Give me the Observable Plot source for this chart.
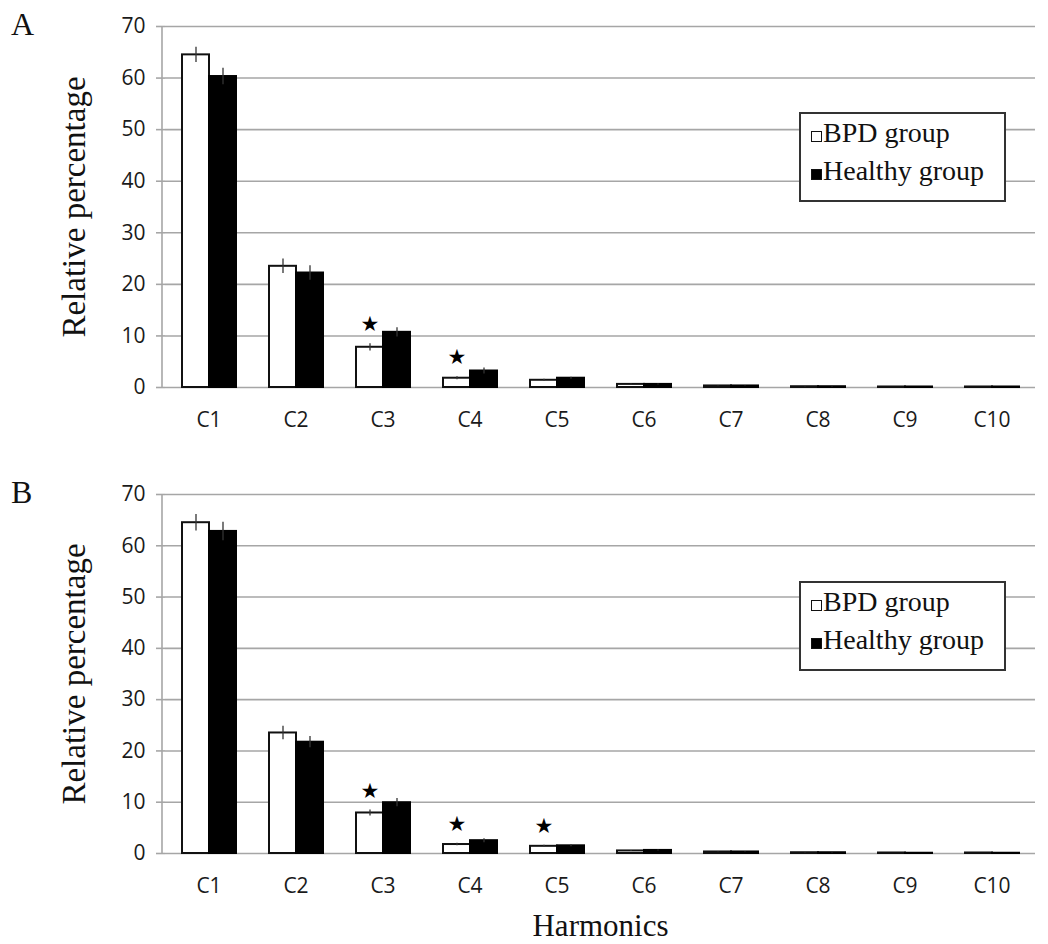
<!DOCTYPE html>
<html>
<head>
<meta charset="utf-8">
<script src="https://cdn.jsdelivr.net/npm/d3@7"></script>
<script src="https://cdn.jsdelivr.net/npm/@observablehq/plot@0.6"></script>
<style>
  body { margin: 0; background: #fff; }
  #wrap { width: 1048px; }
  .panel { position: relative; width: 1048px; height: 472px; }
  .tag { position: absolute; left: 11px; font: 32px "Liberation Serif", serif; line-height: 32px; color: #111; }
  .legend { position: absolute; left: 799px; width: 203px; height: 86px; border: 2px solid #333;
            background: #fff; font: 28px "Liberation Serif", serif; color: #111; box-sizing: content-box; }
  .legend .row { display: flex; align-items: center; height: 38px; padding-left: 10px; }
  .legend .sw { width: 9px; height: 9px; border: 1.5px solid #111; margin-right: 1px; margin-top: 6px; }
  g[aria-label="y-axis label"] text {
    font-family: "Liberation Serif", serif; font-size: 33px; fill: #111;
  }
  g[aria-label="fx-axis label"] text {
    font-family: "Liberation Serif", serif; font-size: 31px; fill: #111;
  }
</style>
</head>
<body>
<div id="wrap"></div>
<script>
const categories = ["C1", "C2", "C3", "C4", "C5", "C6", "C7", "C8", "C9", "C10"];
const groups = ["BPD group", "Healthy group"];
const yTicks = [0, 10, 20, 30, 40, 50, 60, 70];

// Panel A
const bpdA        = [64.5, 23.5, 7.8, 1.8, 1.4, 0.6, 0.3, 0.15, 0.1, 0.1];
const healthyA    = [60.3, 22.2, 10.7, 3.2, 1.8, 0.6, 0.3, 0.15, 0.1, 0.1];
const bpdErrA     = [1.5, 1.4, 0.7, 0.3, 0.2, 0.1, 0.05, 0.03, 0.02, 0.02];
const healthyErrA = [1.6, 1.4, 0.9, 0.6, 0.2, 0.1, 0.05, 0.03, 0.02, 0.02];
const starsA      = ["C3", "C4"];

// Panel B
const bpdB        = [64.5, 23.5, 7.9, 1.75, 1.4, 0.5, 0.3, 0.15, 0.1, 0.1];
const healthyB    = [62.8, 21.7, 9.9, 2.5, 1.5, 0.6, 0.3, 0.15, 0.05, 0.05];
const bpdErrB     = [1.6, 1.3, 0.6, 0.25, 0.2, 0.1, 0.05, 0.03, 0.02, 0.02];
const healthyErrB = [1.8, 1.1, 0.8, 0.4, 0.2, 0.1, 0.05, 0.03, 0.02, 0.02];
const starsB      = ["C3", "C4", "C5"];

function buildRows(bpd, healthy, bpdErr, healthyErr) {
  const rows = [];
  categories.forEach((c, i) => {
    rows.push({cat: c, group: groups[0], value: bpd[i], err: bpdErr[i]});
    rows.push({cat: c, group: groups[1], value: healthy[i], err: healthyErr[i]});
  });
  return rows;
}

function panel({tag, bpd, healthy, bpdErr, healthyErr, stars, xLabel, marginTop, marginBottom, legendTop}) {
  const rows = buildRows(bpd, healthy, bpdErr, healthyErr);
  const starRows = rows.filter(d => d.group === groups[0] && stars.includes(d.cat));
  const chart = Plot.plot({
    width: 1048,
    height: 472,
    marginLeft: 162,
    marginRight: 10,
    marginTop,
    marginBottom,
    style: {fontFamily: "'Open Sans', sans-serif", fontSize: "21px", color: "#1a1a1a", background: "#fff"},
    fx: {domain: categories, padding: 0},
    x: {domain: groups, paddingInner: 0, paddingOuter: 0.593, axis: null},
    y: {domain: [0, 70]},
    marks: [
      Plot.gridY(yTicks, {stroke: "#a6a6a6", strokeOpacity: 1, strokeWidth: 1.6}),
      Plot.axisY(yTicks, {tickSize: 9, tickPadding: 11, stroke: "#a6a6a6", strokeWidth: 1.6,
        label: "Relative percentage", labelAnchor: "center", labelArrow: "none", labelOffset: 104}),
      Plot.axisFx({anchor: "bottom", tickSize: 0, tickPadding: 25, label: xLabel, labelAnchor: "center",
        labelArrow: "none", labelOffset: 82}),
      Plot.barY(rows.filter(d => d.group === groups[0]),
        {fx: "cat", x: "group", y: "value", fill: "#fff", stroke: "#111", strokeWidth: 2}),
      Plot.barY(rows.filter(d => d.group === groups[1]),
        {fx: "cat", x: "group", y: "value", fill: "#000", stroke: "#000", strokeWidth: 2}),
      Plot.ruleX(rows, {fx: "cat", x: "group", y1: d => d.value - d.err, y2: d => d.value + d.err,
        stroke: "#333", strokeWidth: 1.3}),
      Plot.text(starRows, {fx: "cat", x: "group", y: d => d.value + d.err, text: () => "★",
        dy: -19, fontSize: 21, fill: "#000", fontFamily: "DejaVu Sans"})
    ]
  });
  // vertical value-axis line at the frame's left edge, from the plot's own y scale
  const y = chart.scale("y");
  d3.select(chart).append("line")
    .attr("x1", 162).attr("x2", 162)
    .attr("y1", y.apply(0)).attr("y2", y.apply(70))
    .attr("stroke", "#a6a6a6").attr("stroke-width", 1.6);

  const div = document.createElement("div");
  div.className = "panel";
  div.appendChild(chart);
  const t = document.createElement("div");
  t.className = "tag";
  t.style.top = (marginTop - 18) + "px";
  t.textContent = tag;
  div.appendChild(t);
  const lg = document.createElement("div");
  lg.className = "legend";
  lg.style.top = legendTop + "px";
  lg.innerHTML = groups.map((g, i) =>
    `<div class="row"><span class="sw" style="background:${i ? "#000" : "#fff"}"></span>${g}</div>`).join("");
  div.appendChild(lg);
  return div;
}

const wrap = document.getElementById("wrap");
wrap.appendChild(panel({tag: "A", bpd: bpdA, healthy: healthyA, bpdErr: bpdErrA, healthyErr: healthyErrA,
  stars: starsA, xLabel: null, marginTop: 26, marginBottom: 85, legendTop: 112}));
wrap.appendChild(panel({tag: "B", bpd: bpdB, healthy: healthyB, bpdErr: bpdErrB, healthyErr: healthyErrB,
  stars: starsB, xLabel: "Harmonics", marginTop: 22, marginBottom: 91, legendTop: 109}));
</script>
</body>
</html>
